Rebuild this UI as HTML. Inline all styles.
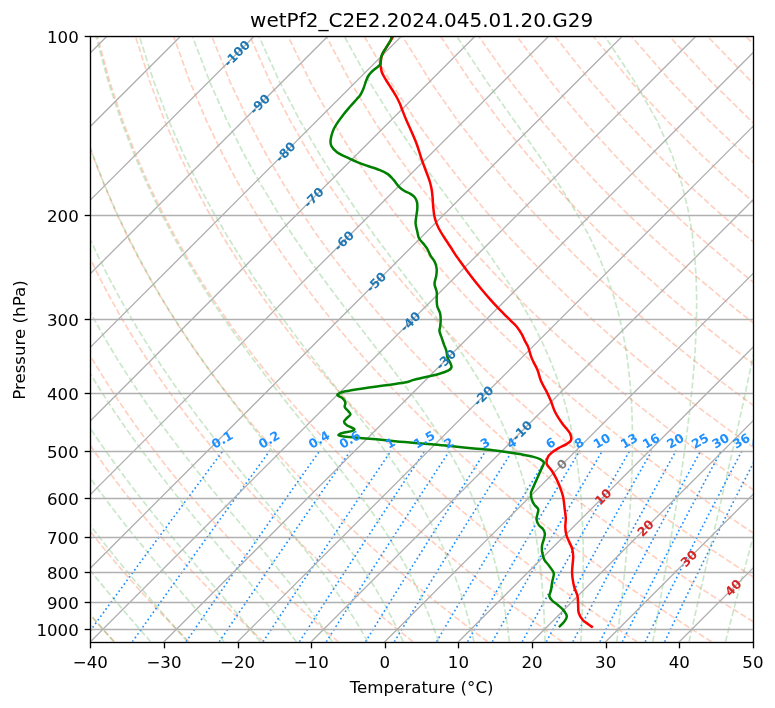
<!DOCTYPE html><html><head><meta charset="utf-8"><title>Skew-T</title><style>
html,body{margin:0;padding:0;background:#fff;}svg{display:block;will-change:transform;}
text{font-family:"DejaVu Sans","Liberation Sans",sans-serif;}
</style></head><body>
<svg width="775" height="708" viewBox="0 0 775 708">
<rect width="775" height="708" fill="#fff"/>
<defs><clipPath id="ax"><rect x="90.364" y="36.19" width="662.56" height="605.59"/></clipPath></defs>
<g clip-path="url(#ax)">
<g fill="none" stroke="#ff4500" stroke-opacity="0.25" stroke-width="1.67" stroke-dasharray="6.17 2.67">
<path d="M114.46 641.78 L110.01 636.98 L105.54 632.08 L101.03 627.1 L96.48 622.01 L91.9 616.83 L87.28 611.54 L82.62 606.13 L77.93 600.61 L73.19 594.97 L68.42 589.2 L63.61 583.3 L58.76 577.27 L53.87 571.08 L48.93 564.75 L43.96 558.25 L38.94 551.59 L33.87 544.75 L28.76 537.73 L23.61 530.5 L18.41 523.07 L13.16 515.42 L7.87 507.53 L2.53 499.4 L-2.85 490.99 L-8.29 482.31 L-13.77 473.32 L-19.29 464.01 L-24.87 454.35 L-30.49 444.31 L-36.15 433.86 L-41.85 422.97 L-47.6 411.6 L-53.38 399.71 L-59.19 387.24 L-65.02 374.14 L-70.87 360.33 L-76.73 345.74 L-82.59 330.28 L-88.42 313.82 L-94.2 296.24 L-99.91 277.38 L-105.49 257.02 L-110.9 234.92 L-116.05 210.73 L-120.84 184.04 L-125.1 154.26 L-128.59 120.58 L-130.92 81.83 L-131.45 36.19"/>
<path d="M189.11 641.78 L184.27 636.98 L179.39 632.08 L174.47 627.1 L169.51 622.01 L164.51 616.83 L159.47 611.54 L154.38 606.13 L149.25 600.61 L144.07 594.97 L138.85 589.2 L133.57 583.3 L128.26 577.27 L122.89 571.08 L117.47 564.75 L112 558.25 L106.48 551.59 L100.91 544.75 L95.28 537.73 L89.59 530.5 L83.85 523.07 L78.05 515.42 L72.19 507.53 L66.28 499.4 L60.3 490.99 L54.26 482.31 L48.16 473.32 L42 464.01 L35.77 454.35 L29.48 444.31 L23.13 433.86 L16.71 422.97 L10.23 411.6 L3.7 399.71 L-2.9 387.24 L-9.55 374.14 L-16.24 360.33 L-22.98 345.74 L-29.75 330.28 L-36.53 313.82 L-43.32 296.24 L-50.08 277.38 L-56.78 257.02 L-63.36 234.92 L-69.78 210.73 L-75.92 184.04 L-81.64 154.26 L-86.72 120.58 L-90.81 81.83 L-93.32 36.19"/>
<path d="M263.76 641.78 L258.53 636.98 L253.24 632.08 L247.92 627.1 L242.54 622.01 L237.12 616.83 L231.65 611.54 L226.14 606.13 L220.57 600.61 L214.94 594.97 L209.27 589.2 L203.54 583.3 L197.75 577.27 L191.91 571.08 L186.01 564.75 L180.05 558.25 L174.02 551.59 L167.94 544.75 L161.79 537.73 L155.57 530.5 L149.29 523.07 L142.94 515.42 L136.52 507.53 L130.02 499.4 L123.45 490.99 L116.81 482.31 L110.09 473.32 L103.29 464.01 L96.41 454.35 L89.45 444.31 L82.4 433.86 L75.27 422.97 L68.06 411.6 L60.77 399.71 L53.39 387.24 L45.93 374.14 L38.39 360.33 L30.77 345.74 L23.09 330.28 L15.35 313.82 L7.56 296.24 L-0.25 277.38 L-8.06 257.02 L-15.83 234.92 L-23.5 210.73 L-30.99 184.04 L-38.17 154.26 L-44.84 120.58 L-50.7 81.83 L-55.19 36.19"/>
<path d="M338.41 641.78 L332.78 636.98 L327.1 632.08 L321.36 627.1 L315.58 622.01 L309.74 616.83 L303.84 611.54 L297.89 606.13 L291.88 600.61 L285.82 594.97 L279.69 589.2 L273.5 583.3 L267.25 577.27 L260.93 571.08 L254.55 564.75 L248.09 558.25 L241.57 551.59 L234.97 544.75 L228.3 537.73 L221.56 530.5 L214.73 523.07 L207.83 515.42 L200.84 507.53 L193.77 499.4 L186.61 490.99 L179.36 482.31 L172.01 473.32 L164.58 464.01 L157.04 454.35 L149.41 444.31 L141.68 433.86 L133.84 422.97 L125.89 411.6 L117.84 399.71 L109.67 387.24 L101.4 374.14 L93.02 360.33 L84.53 345.74 L75.93 330.28 L67.23 313.82 L58.45 296.24 L49.58 277.38 L40.66 257.02 L31.71 234.92 L22.78 210.73 L13.94 184.04 L5.3 154.26 L-2.97 120.58 L-10.59 81.83 L-17.06 36.19"/>
<path d="M413.07 641.78 L407.04 636.98 L400.95 632.08 L394.81 627.1 L388.61 622.01 L382.35 616.83 L376.03 611.54 L369.65 606.13 L363.2 600.61 L356.69 594.97 L350.11 589.2 L343.46 583.3 L336.74 577.27 L329.95 571.08 L323.08 564.75 L316.14 558.25 L309.11 551.59 L302.01 544.75 L294.82 537.73 L287.54 530.5 L280.17 523.07 L272.71 515.42 L265.16 507.53 L257.51 499.4 L249.76 490.99 L241.9 482.31 L233.94 473.32 L225.87 464.01 L217.68 454.35 L209.38 444.31 L200.95 433.86 L192.4 422.97 L183.72 411.6 L174.91 399.71 L165.96 387.24 L156.88 374.14 L147.65 360.33 L138.28 345.74 L128.77 330.28 L119.12 313.82 L109.33 296.24 L99.41 277.38 L89.37 257.02 L79.24 234.92 L69.05 210.73 L58.86 184.04 L48.76 154.26 L38.9 120.58 L29.52 81.83 L21.07 36.19"/>
<path d="M487.72 641.78 L481.29 636.98 L474.8 632.08 L468.26 627.1 L461.64 622.01 L454.97 616.83 L448.22 611.54 L441.41 606.13 L434.52 600.61 L427.57 594.97 L420.53 589.2 L413.43 583.3 L406.24 577.27 L398.97 571.08 L391.62 564.75 L384.18 558.25 L376.66 551.59 L369.04 544.75 L361.33 537.73 L353.52 530.5 L345.61 523.07 L337.6 515.42 L329.48 507.53 L321.25 499.4 L312.91 490.99 L304.45 482.31 L295.87 473.32 L287.16 464.01 L278.32 454.35 L269.34 444.31 L260.22 433.86 L250.96 422.97 L241.55 411.6 L231.98 399.71 L222.25 387.24 L212.35 374.14 L202.28 360.33 L192.04 345.74 L181.61 330.28 L171 313.82 L160.21 296.24 L149.24 277.38 L138.09 257.02 L126.78 234.92 L115.33 210.73 L103.79 184.04 L92.23 154.26 L80.77 120.58 L69.63 81.83 L59.2 36.19"/>
<path d="M562.37 641.78 L555.55 636.98 L548.66 632.08 L541.7 627.1 L534.68 622.01 L527.58 616.83 L520.41 611.54 L513.16 606.13 L505.84 600.61 L498.44 594.97 L490.96 589.2 L483.39 583.3 L475.74 577.27 L467.99 571.08 L460.16 564.75 L452.23 558.25 L444.2 551.59 L436.07 544.75 L427.84 537.73 L419.5 530.5 L411.05 523.07 L402.49 515.42 L393.81 507.53 L385 499.4 L376.07 490.99 L367 482.31 L357.79 473.32 L348.45 464.01 L338.95 454.35 L329.31 444.31 L319.5 433.86 L309.52 422.97 L299.38 411.6 L289.05 399.71 L278.53 387.24 L267.83 374.14 L256.91 360.33 L245.79 345.74 L234.45 330.28 L222.89 313.82 L211.09 296.24 L199.06 277.38 L186.8 257.02 L174.31 234.92 L161.61 210.73 L148.72 184.04 L135.7 154.26 L122.65 120.58 L109.74 81.83 L97.33 36.19"/>
<path d="M637.02 641.78 L629.8 636.98 L622.51 632.08 L615.15 627.1 L607.71 622.01 L600.19 616.83 L592.6 611.54 L584.92 606.13 L577.16 600.61 L569.31 594.97 L561.38 589.2 L553.35 583.3 L545.23 577.27 L537.01 571.08 L528.7 564.75 L520.27 558.25 L511.75 551.59 L503.11 544.75 L494.36 537.73 L485.49 530.5 L476.49 523.07 L467.38 515.42 L458.13 507.53 L448.74 499.4 L439.22 490.99 L429.55 482.31 L419.72 473.32 L409.74 464.01 L399.59 454.35 L389.27 444.31 L378.77 433.86 L368.09 422.97 L357.21 411.6 L346.12 399.71 L334.82 387.24 L323.3 374.14 L311.54 360.33 L299.54 345.74 L287.29 330.28 L274.77 313.82 L261.97 296.24 L248.89 277.38 L235.52 257.02 L221.85 234.92 L207.88 210.73 L193.65 184.04 L179.16 154.26 L164.52 120.58 L149.86 81.83 L135.46 36.19"/>
<path d="M711.67 641.78 L704.06 636.98 L696.37 632.08 L688.59 627.1 L680.74 622.01 L672.81 616.83 L664.79 611.54 L656.68 606.13 L648.48 600.61 L640.19 594.97 L631.8 589.2 L623.32 583.3 L614.73 577.27 L606.03 571.08 L597.23 564.75 L588.32 558.25 L579.29 551.59 L570.14 544.75 L560.87 537.73 L551.47 530.5 L541.94 523.07 L532.26 515.42 L522.45 507.53 L512.49 499.4 L502.37 490.99 L492.09 482.31 L481.65 473.32 L471.03 464.01 L460.23 454.35 L449.24 444.31 L438.05 433.86 L426.65 422.97 L415.03 411.6 L403.19 399.71 L391.11 387.24 L378.77 374.14 L366.18 360.33 L353.3 345.74 L340.13 330.28 L326.65 313.82 L312.86 296.24 L298.72 277.38 L284.23 257.02 L269.38 234.92 L254.16 210.73 L238.57 184.04 L222.63 154.26 L206.39 120.58 L189.97 81.83 L173.59 36.19"/>
<path d="M776 635.58 L770.22 632.08 L762.04 627.1 L753.78 622.01 L745.42 616.83 L736.98 611.54 L728.44 606.13 L719.8 600.61 L711.06 594.97 L702.22 589.2 L693.28 583.3 L684.22 577.27 L675.05 571.08 L665.77 564.75 L656.36 558.25 L646.83 551.59 L637.18 544.75 L627.38 537.73 L617.45 530.5 L607.38 523.07 L597.15 515.42 L586.77 507.53 L576.23 499.4 L565.52 490.99 L554.64 482.31 L543.58 473.32 L532.32 464.01 L520.87 454.35 L509.2 444.31 L497.32 433.86 L485.21 422.97 L472.86 411.6 L460.26 399.71 L447.4 387.24 L434.25 374.14 L420.81 360.33 L407.05 345.74 L392.97 330.28 L378.54 313.82 L363.74 296.24 L348.55 277.38 L332.95 257.02 L316.92 234.92 L300.44 210.73 L283.5 184.04 L266.1 154.26 L248.27 120.58 L230.08 81.83 L211.72 36.19"/>
<path d="M776 591.28 L772.65 589.2 L763.24 583.3 L753.72 577.27 L744.08 571.08 L734.31 564.75 L724.41 558.25 L714.38 551.59 L704.21 544.75 L693.9 537.73 L683.43 530.5 L672.82 523.07 L662.04 515.42 L651.1 507.53 L639.98 499.4 L628.68 490.99 L617.19 482.31 L605.5 473.32 L593.61 464.01 L581.5 454.35 L569.17 444.31 L556.6 433.86 L543.78 422.97 L530.69 411.6 L517.33 399.71 L503.68 387.24 L489.72 374.14 L475.44 360.33 L460.81 345.74 L445.81 330.28 L430.42 313.82 L414.62 296.24 L398.38 277.38 L381.66 257.02 L364.45 234.92 L346.72 210.73 L328.43 184.04 L309.57 154.26 L290.14 120.58 L270.19 81.83 L249.85 36.19"/>
<path d="M776 547.8 L771.24 544.75 L760.41 537.73 L749.42 530.5 L738.26 523.07 L726.93 515.42 L715.42 507.53 L703.72 499.4 L691.83 490.99 L679.74 482.31 L667.43 473.32 L654.9 464.01 L642.14 454.35 L629.13 444.31 L615.87 433.86 L602.34 422.97 L588.52 411.6 L574.4 399.71 L559.97 387.24 L545.2 374.14 L530.07 360.33 L514.56 345.74 L498.65 330.28 L482.31 313.82 L465.5 296.24 L448.21 277.38 L430.38 257.02 L411.99 234.92 L392.99 210.73 L373.35 184.04 L353.03 154.26 L332.01 120.58 L310.3 81.83 L287.98 36.19"/>
<path d="M776 505.05 L767.47 499.4 L754.98 490.99 L742.28 482.31 L729.36 473.32 L716.19 464.01 L702.78 454.35 L689.1 444.31 L675.15 433.86 L660.9 422.97 L646.35 411.6 L631.47 399.71 L616.26 387.24 L600.67 374.14 L584.7 360.33 L568.32 345.74 L551.49 330.28 L534.19 313.82 L516.38 296.24 L498.03 277.38 L479.1 257.02 L459.52 234.92 L439.27 210.73 L418.28 184.04 L396.5 154.26 L373.88 120.58 L350.41 81.83 L326.11 36.19"/>
<path d="M776 462.99 L763.41 454.35 L749.06 444.31 L734.42 433.86 L719.46 422.97 L704.18 411.6 L688.55 399.71 L672.54 387.24 L656.15 374.14 L639.33 360.33 L622.07 345.74 L604.33 330.28 L586.07 313.82 L567.27 296.24 L547.86 277.38 L527.81 257.02 L507.06 234.92 L485.55 210.73 L463.21 184.04 L439.97 154.26 L415.76 120.58 L390.52 81.83 L364.24 36.19"/>
<path d="M776 421.53 L762.01 411.6 L745.62 399.71 L728.83 387.24 L711.62 374.14 L693.96 360.33 L675.82 345.74 L657.17 330.28 L637.96 313.82 L618.15 296.24 L597.69 277.38 L576.53 257.02 L554.6 234.92 L531.82 210.73 L508.13 184.04 L483.43 154.26 L457.63 120.58 L430.63 81.83 L402.38 36.19"/>
<path d="M776 380.61 L767.1 374.14 L748.59 360.33 L729.58 345.74 L710.01 330.28 L689.84 313.82 L669.03 296.24 L647.52 277.38 L625.24 257.02 L602.13 234.92 L578.1 210.73 L553.06 184.04 L526.9 154.26 L499.5 120.58 L470.74 81.83 L440.51 36.19"/>
<path d="M776 340.21 L762.85 330.28 L741.73 313.82 L719.91 296.24 L697.35 277.38 L673.96 257.02 L649.67 234.92 L624.38 210.73 L597.99 184.04 L570.37 154.26 L541.37 120.58 L510.85 81.83 L478.64 36.19"/>
<path d="M776 300.26 L770.79 296.24 L747.17 277.38 L722.67 257.02 L697.2 234.92 L670.66 210.73 L642.91 184.04 L613.83 154.26 L583.25 120.58 L550.96 81.83 L516.77 36.19"/>
<path d="M776 260.69 L771.39 257.02 L744.74 234.92 L716.93 210.73 L687.84 184.04 L657.3 154.26 L625.12 120.58 L591.07 81.83 L554.9 36.19"/>
<path d="M776 221.38 L763.21 210.73 L732.77 184.04 L700.77 154.26 L666.99 120.58 L631.18 81.83 L593.03 36.19"/>
<path d="M776 182.53 L744.23 154.26 L708.87 120.58 L671.29 81.83 L631.16 36.19"/>
<path d="M776 143.6 L750.74 120.58 L711.41 81.83 L669.29 36.19"/>
<path d="M776 104.92 L751.52 81.83 L707.42 36.19"/>
<path d="M776 66.35 L745.55 36.19"/>
</g>
<g fill="none" stroke="#2ca02c" stroke-opacity="0.25" stroke-width="1.67" stroke-dasharray="6.17 2.67">
<path d="M113.8 641.78 L109.63 636.98 L105.4 632.08 L101.12 627.1 L96.78 622.01 L92.39 616.83 L87.95 611.54 L83.45 606.13 L78.9 600.61 L74.29 594.97 L69.63 589.2 L64.92 583.3 L60.15 577.27 L55.34 571.08 L50.47 564.75 L45.54 558.25 L40.57 551.59 L35.54 544.75 L30.46 537.73 L25.33 530.5 L20.15 523.07 L14.92 515.42 L9.63 507.53 L4.3 499.4 L-1.09 490.99 L-6.53 482.31 L-12.02 473.32 L-17.55 464.01 L-23.14 454.35 L-28.77 444.31 L-34.45 433.86 L-40.17 422.97 L-45.93 411.6 L-51.73 399.71 L-57.57 387.24 L-63.42 374.14 L-69.3 360.33 L-75.19 345.74 L-81.07 330.28 L-86.92 313.82 L-92.73 296.24 L-98.47 277.38 L-104.09 257.02 L-109.53 234.92 L-114.72 210.73 L-119.55 184.04 L-123.85 154.26 L-127.38 120.58 L-129.76 81.83 L-130.35 36.19"/>
<path d="M150.74 641.78 L146.53 636.98 L142.25 632.08 L137.9 627.1 L133.49 622.01 L129 616.83 L124.45 611.54 L119.84 606.13 L115.16 600.61 L110.41 594.97 L105.6 589.2 L100.73 583.3 L95.79 577.27 L90.79 571.08 L85.72 564.75 L80.59 558.25 L75.4 551.59 L70.15 544.75 L64.83 537.73 L59.46 530.5 L54.02 523.07 L48.52 515.42 L42.96 507.53 L37.34 499.4 L31.66 490.99 L25.92 482.31 L20.12 473.32 L14.26 464.01 L8.34 454.35 L2.36 444.31 L-3.67 433.86 L-9.76 422.97 L-15.9 411.6 L-22.09 399.71 L-28.33 387.24 L-34.61 374.14 L-40.92 360.33 L-47.26 345.74 L-53.62 330.28 L-59.97 313.82 L-66.3 296.24 L-72.59 277.38 L-78.78 257.02 L-84.84 234.92 L-90.68 210.73 L-96.21 184.04 L-101.27 154.26 L-105.63 120.58 L-108.93 81.83 L-110.54 36.19"/>
<path d="M187.51 641.78 L183.33 636.98 L179.06 632.08 L174.71 627.1 L170.27 622.01 L165.76 616.83 L161.16 611.54 L156.48 606.13 L151.72 600.61 L146.88 594.97 L141.96 589.2 L136.96 583.3 L131.89 577.27 L126.73 571.08 L121.5 564.75 L116.19 558.25 L110.81 551.59 L105.35 544.75 L99.82 537.73 L94.21 530.5 L88.53 523.07 L82.77 515.42 L76.95 507.53 L71.05 499.4 L65.08 490.99 L59.04 482.31 L52.92 473.32 L46.74 464.01 L40.48 454.35 L34.16 444.31 L27.77 433.86 L21.31 422.97 L14.78 411.6 L8.19 399.71 L1.54 387.24 L-5.17 374.14 L-11.93 360.33 L-18.74 345.74 L-25.58 330.28 L-32.44 313.82 L-39.3 296.24 L-46.14 277.38 L-52.93 257.02 L-59.61 234.92 L-66.12 210.73 L-72.37 184.04 L-78.2 154.26 L-83.41 120.58 L-87.64 81.83 L-90.31 36.19"/>
<path d="M224.07 641.78 L219.99 636.98 L215.82 632.08 L211.55 627.1 L207.17 622.01 L202.7 616.83 L198.13 611.54 L193.46 606.13 L188.69 600.61 L183.82 594.97 L178.85 589.2 L173.79 583.3 L168.63 577.27 L163.37 571.08 L158.02 564.75 L152.57 558.25 L147.03 551.59 L141.4 544.75 L135.68 537.73 L129.86 530.5 L123.96 523.07 L117.97 515.42 L111.89 507.53 L105.72 499.4 L99.47 490.99 L93.13 482.31 L86.71 473.32 L80.2 464.01 L73.61 454.35 L66.93 444.31 L60.17 433.86 L53.33 422.97 L46.41 411.6 L39.41 399.71 L32.34 387.24 L25.19 374.14 L17.97 360.33 L10.68 345.74 L3.34 330.28 L-4.04 313.82 L-11.45 296.24 L-18.87 277.38 L-26.26 257.02 L-33.59 234.92 L-40.79 210.73 L-47.78 184.04 L-54.41 154.26 L-60.49 120.58 L-65.69 81.83 L-69.44 36.19"/>
<path d="M260.38 641.78 L256.51 636.98 L252.53 632.08 L248.43 627.1 L244.21 622.01 L239.88 616.83 L235.43 611.54 L230.86 606.13 L226.17 600.61 L221.36 594.97 L216.43 589.2 L211.39 583.3 L206.22 577.27 L200.93 571.08 L195.53 564.75 L190.01 558.25 L184.37 551.59 L178.62 544.75 L172.75 537.73 L166.78 530.5 L160.69 523.07 L154.49 515.42 L148.18 507.53 L141.77 499.4 L135.25 490.99 L128.63 482.31 L121.9 473.32 L115.08 464.01 L108.15 454.35 L101.12 444.31 L93.99 433.86 L86.76 422.97 L79.43 411.6 L72.01 399.71 L64.5 387.24 L56.89 374.14 L49.19 360.33 L41.41 345.74 L33.55 330.28 L25.62 313.82 L17.64 296.24 L9.62 277.38 L1.59 257.02 L-6.41 234.92 L-14.34 210.73 L-22.09 184.04 L-29.56 154.26 L-36.55 120.58 L-42.75 81.83 L-47.64 36.19"/>
<path d="M296.43 641.78 L292.86 636.98 L289.17 632.08 L285.35 627.1 L281.41 622.01 L277.33 616.83 L273.11 611.54 L268.76 606.13 L264.27 600.61 L259.64 594.97 L254.87 589.2 L249.95 583.3 L244.89 577.27 L239.68 571.08 L234.32 564.75 L228.82 558.25 L223.18 551.59 L217.39 544.75 L211.46 537.73 L205.39 530.5 L199.18 523.07 L192.83 515.42 L186.34 507.53 L179.72 499.4 L172.97 490.99 L166.09 482.31 L159.08 473.32 L151.95 464.01 L144.69 454.35 L137.31 444.31 L129.8 433.86 L122.18 422.97 L114.44 411.6 L106.58 399.71 L98.61 387.24 L90.52 374.14 L82.32 360.33 L74.01 345.74 L65.6 330.28 L57.1 313.82 L48.51 296.24 L39.85 277.38 L31.14 257.02 L22.43 234.92 L13.74 210.73 L5.17 184.04 L-3.19 154.26 L-11.15 120.58 L-18.42 81.83 L-24.5 36.19"/>
<path d="M332.21 641.78 L329.05 636.98 L325.75 632.08 L322.33 627.1 L318.76 622.01 L315.06 616.83 L311.21 611.54 L307.21 606.13 L303.05 600.61 L298.74 594.97 L294.26 589.2 L289.62 583.3 L284.8 577.27 L279.81 571.08 L274.65 564.75 L269.31 558.25 L263.8 551.59 L258.1 544.75 L252.23 537.73 L246.18 530.5 L239.95 523.07 L233.55 515.42 L226.97 507.53 L220.22 499.4 L213.3 490.99 L206.22 482.31 L198.97 473.32 L191.57 464.01 L184 454.35 L176.28 444.31 L168.41 433.86 L160.39 422.97 L152.22 411.6 L143.91 399.71 L135.46 387.24 L126.86 374.14 L118.13 360.33 L109.26 345.74 L100.26 330.28 L91.14 313.82 L81.89 296.24 L72.55 277.38 L63.11 257.02 L53.62 234.92 L44.11 210.73 L34.65 184.04 L25.34 154.26 L16.33 120.58 L7.9 81.83 L0.52 36.19"/>
<path d="M367.78 641.78 L365.09 636.98 L362.28 632.08 L359.34 627.1 L356.26 622.01 L353.05 616.83 L349.69 611.54 L346.17 606.13 L342.49 600.61 L338.64 594.97 L334.62 589.2 L330.42 583.3 L326.03 577.27 L321.44 571.08 L316.66 564.75 L311.67 558.25 L306.47 551.59 L301.06 544.75 L295.43 537.73 L289.58 530.5 L283.51 523.07 L277.21 515.42 L270.69 507.53 L263.95 499.4 L257 490.99 L249.82 482.31 L242.43 473.32 L234.83 464.01 L227.03 454.35 L219.02 444.31 L210.82 433.86 L202.42 422.97 L193.83 411.6 L185.06 399.71 L176.11 387.24 L166.98 374.14 L157.68 360.33 L148.2 345.74 L138.56 330.28 L128.76 313.82 L118.8 296.24 L108.69 277.38 L98.46 257.02 L88.11 234.92 L77.69 210.73 L67.25 184.04 L56.88 154.26 L46.72 120.58 L37.01 81.83 L28.19 36.19"/>
<path d="M403.2 641.78 L401.04 636.98 L398.77 632.08 L396.38 627.1 L393.87 622.01 L391.24 616.83 L388.46 611.54 L385.54 606.13 L382.46 600.61 L379.23 594.97 L375.82 589.2 L372.22 583.3 L368.44 577.27 L364.46 571.08 L360.26 564.75 L355.85 558.25 L351.2 551.59 L346.31 544.75 L341.17 537.73 L335.78 530.5 L330.12 523.07 L324.19 515.42 L317.98 507.53 L311.5 499.4 L304.73 490.99 L297.67 482.31 L290.34 473.32 L282.72 464.01 L274.82 454.35 L266.65 444.31 L258.22 433.86 L249.52 422.97 L240.57 411.6 L231.37 399.71 L221.93 387.24 L212.26 374.14 L202.36 360.33 L192.23 345.74 L181.89 330.28 L171.34 313.82 L160.58 296.24 L149.63 277.38 L138.48 257.02 L127.17 234.92 L115.72 210.73 L104.17 184.04 L92.6 154.26 L81.13 120.58 L69.98 81.83 L59.53 36.19"/>
<path d="M438.56 641.78 L436.95 636.98 L435.24 632.08 L433.44 627.1 L431.54 622.01 L429.53 616.83 L427.4 611.54 L425.15 606.13 L422.77 600.61 L420.24 594.97 L417.55 589.2 L414.71 583.3 L411.68 577.27 L408.47 571.08 L405.06 564.75 L401.44 558.25 L397.58 551.59 L393.49 544.75 L389.13 537.73 L384.5 530.5 L379.59 523.07 L374.37 515.42 L368.83 507.53 L362.96 499.4 L356.75 490.99 L350.18 482.31 L343.25 473.32 L335.95 464.01 L328.28 454.35 L320.24 444.31 L311.82 433.86 L303.04 422.97 L293.9 411.6 L284.41 399.71 L274.58 387.24 L264.42 374.14 L253.94 360.33 L243.16 345.74 L232.08 330.28 L220.71 313.82 L209.06 296.24 L197.14 277.38 L184.96 257.02 L172.54 234.92 L159.9 210.73 L147.06 184.04 L134.1 154.26 L121.11 120.58 L108.27 81.83 L95.93 36.19"/>
<path d="M473.94 641.78 L472.86 636.98 L471.72 632.08 L470.5 627.1 L469.21 622.01 L467.83 616.83 L466.37 611.54 L464.81 606.13 L463.14 600.61 L461.36 594.97 L459.46 589.2 L457.42 583.3 L455.25 577.27 L452.91 571.08 L450.41 564.75 L447.73 558.25 L444.85 551.59 L441.75 544.75 L438.42 537.73 L434.84 530.5 L430.99 523.07 L426.84 515.42 L422.37 507.53 L417.56 499.4 L412.38 490.99 L406.81 482.31 L400.82 473.32 L394.39 464.01 L387.51 454.35 L380.14 444.31 L372.28 433.86 L363.91 422.97 L355.04 411.6 L345.65 399.71 L335.76 387.24 L325.37 374.14 L314.51 360.33 L303.18 345.74 L291.42 330.28 L279.22 313.82 L266.63 296.24 L253.64 277.38 L240.29 257.02 L226.58 234.92 L212.53 210.73 L198.18 184.04 L183.56 154.26 L168.76 120.58 L153.92 81.83 L139.32 36.19"/>
<path d="M509.4 641.78 L508.83 636.98 L508.21 632.08 L507.54 627.1 L506.83 622.01 L506.05 616.83 L505.22 611.54 L504.32 606.13 L503.34 600.61 L502.29 594.97 L501.15 589.2 L499.92 583.3 L498.59 577.27 L497.15 571.08 L495.58 564.75 L493.88 558.25 L492.03 551.59 L490.02 544.75 L487.83 537.73 L485.44 530.5 L482.84 523.07 L479.99 515.42 L476.88 507.53 L473.47 499.4 L469.74 490.99 L465.66 482.31 L461.18 473.32 L456.26 464.01 L450.87 454.35 L444.96 444.31 L438.48 433.86 L431.4 422.97 L423.68 411.6 L415.27 399.71 L406.15 387.24 L396.3 374.14 L385.72 360.33 L374.4 345.74 L362.36 330.28 L349.63 313.82 L336.23 296.24 L322.22 277.38 L307.62 257.02 L292.46 234.92 L276.78 210.73 L260.62 184.04 L244 154.26 L227 120.58 L209.71 81.83 L192.37 36.19"/>
<path d="M545.01 641.78 L544.88 636.98 L544.74 632.08 L544.56 627.1 L544.36 622.01 L544.13 616.83 L543.86 611.54 L543.55 606.13 L543.21 600.61 L542.81 594.97 L542.37 589.2 L541.87 583.3 L541.31 577.27 L540.68 571.08 L539.98 564.75 L539.19 558.25 L538.32 551.59 L537.34 544.75 L536.24 537.73 L535.02 530.5 L533.66 523.07 L532.13 515.42 L530.43 507.53 L528.52 499.4 L526.38 490.99 L523.99 482.31 L521.3 473.32 L518.28 464.01 L514.89 454.35 L511.06 444.31 L506.75 433.86 L501.89 422.97 L496.4 411.6 L490.2 399.71 L483.22 387.24 L475.36 374.14 L466.55 360.33 L456.69 345.74 L445.74 330.28 L433.66 313.82 L420.43 296.24 L406.08 277.38 L390.66 257.02 L374.23 234.92 L356.87 210.73 L338.66 184.04 L319.66 154.26 L299.96 120.58 L279.63 81.83 L258.84 36.19"/>
<path d="M580.78 641.78 L581.04 636.98 L581.3 632.08 L581.55 627.1 L581.79 622.01 L582.02 616.83 L582.24 611.54 L582.45 606.13 L582.63 600.61 L582.8 594.97 L582.95 589.2 L583.08 583.3 L583.18 577.27 L583.25 571.08 L583.28 564.75 L583.28 558.25 L583.24 551.59 L583.15 544.75 L583 537.73 L582.79 530.5 L582.5 523.07 L582.14 515.42 L581.68 507.53 L581.11 499.4 L580.42 490.99 L579.58 482.31 L578.58 473.32 L577.39 464.01 L575.98 454.35 L574.31 444.31 L572.34 433.86 L570 422.97 L567.25 411.6 L564 399.71 L560.16 387.24 L555.62 374.14 L550.25 360.33 L543.89 345.74 L536.38 330.28 L527.53 313.82 L517.12 296.24 L504.99 277.38 L490.99 257.02 L475.06 234.92 L457.2 210.73 L437.52 184.04 L416.21 154.26 L393.44 120.58 L369.39 81.83 L344.25 36.19"/>
<path d="M616.72 641.78 L617.31 636.98 L617.91 632.08 L618.51 627.1 L619.12 622.01 L619.73 616.83 L620.35 611.54 L620.97 606.13 L621.6 600.61 L622.23 594.97 L622.87 589.2 L623.5 583.3 L624.14 577.27 L624.77 571.08 L625.41 564.75 L626.04 558.25 L626.66 551.59 L627.28 544.75 L627.89 537.73 L628.48 530.5 L629.06 523.07 L629.62 515.42 L630.15 507.53 L630.65 499.4 L631.12 490.99 L631.53 482.31 L631.89 473.32 L632.17 464.01 L632.38 454.35 L632.47 444.31 L632.45 433.86 L632.27 422.97 L631.9 411.6 L631.3 399.71 L630.42 387.24 L629.19 374.14 L627.52 360.33 L625.3 345.74 L622.39 330.28 L618.59 313.82 L613.67 296.24 L607.31 277.38 L599.12 257.02 L588.61 234.92 L575.26 210.73 L558.57 184.04 L538.21 154.26 L514.18 120.58 L486.81 81.83 L456.64 36.19"/>
<path d="M652.83 641.78 L653.69 636.98 L654.56 632.08 L655.44 627.1 L656.34 622.01 L657.27 616.83 L658.2 611.54 L659.16 606.13 L660.14 600.61 L661.13 594.97 L662.14 589.2 L663.18 583.3 L664.23 577.27 L665.31 571.08 L666.41 564.75 L667.53 558.25 L668.67 551.59 L669.83 544.75 L671.02 537.73 L672.23 530.5 L673.46 523.07 L674.71 515.42 L675.99 507.53 L677.29 499.4 L678.6 490.99 L679.94 482.31 L681.29 473.32 L682.66 464.01 L684.04 454.35 L685.42 444.31 L686.81 433.86 L688.19 422.97 L689.55 411.6 L690.87 399.71 L692.15 387.24 L693.35 374.14 L694.45 360.33 L695.4 345.74 L696.13 330.28 L696.59 313.82 L696.63 296.24 L696.12 277.38 L694.81 257.02 L692.37 234.92 L688.3 210.73 L681.82 184.04 L671.84 154.26 L656.79 120.58 L634.87 81.83 L604.81 36.19"/>
<path d="M689.1 641.78 L690.15 636.98 L691.24 632.08 L692.35 627.1 L693.48 622.01 L694.64 616.83 L695.82 611.54 L697.04 606.13 L698.28 600.61 L699.55 594.97 L700.86 589.2 L702.2 583.3 L703.57 577.27 L704.98 571.08 L706.43 564.75 L707.91 558.25 L709.44 551.59 L711.01 544.75 L712.62 537.73 L714.28 530.5 L715.99 523.07 L717.75 515.42 L719.56 507.53 L721.43 499.4 L723.36 490.99 L725.35 482.31 L727.41 473.32 L729.53 464.01 L731.73 454.35 L734 444.31 L736.35 433.86 L738.78 422.97 L741.29 411.6 L743.9 399.71 L746.59 387.24 L749.38 374.14 L752.26 360.33 L755.24 345.74 L758.3 330.28 L761.45 313.82 L764.65 296.24 L767.89 277.38 L771.1 257.02 L774.21 234.92 L777.08 210.73 L779.46 184.04 L780.93 154.26 L780.69 120.58 L777.25 81.83 L767.58 36.19"/>
<path d="M725.49 641.78 L726.71 636.98 L727.95 632.08 L729.23 627.1 L730.53 622.01 L731.87 616.83 L733.24 611.54 L734.65 606.13 L736.09 600.61 L737.58 594.97 L739.1 589.2 L740.66 583.3 L742.27 577.27 L743.92 571.08 L745.62 564.75 L747.38 558.25 L749.18 551.59 L751.04 544.75 L752.96 537.73 L754.95 530.5 L757 523.07 L759.11 515.42 L761.31 507.53 L763.58 499.4 L765.93 490.99 L768.38 482.31 L770.91 473.32 L773.55 464.01 L776.3 454.35 L779.17 444.31 L782.16 433.86 L785.28 422.97 L788.56 411.6 L791.99 399.71 L795.59 387.24 L799.38 374.14 L803.37 360.33 L807.59 345.74 L812.06 330.28 L816.8 313.82 L821.84 296.24 L827.21 277.38 L832.96 257.02 L839.11 234.92 L845.71 210.73 L852.8 184.04 L860.39 154.26 L868.47 120.58 L876.88 81.83 L885.13 36.19"/>
<path d="M761.99 641.78 L763.33 636.98 L764.69 632.08 L766.09 627.1 L767.52 622.01 L768.99 616.83 L770.49 611.54 L772.04 606.13 L773.63 600.61 L775.26 594.97 L776.94 589.2 L778.66 583.3 L780.44 577.27 L782.26 571.08 L784.14 564.75 L786.09 558.25 L788.09 551.59 L790.15 544.75 L792.29 537.73 L794.5 530.5 L796.78 523.07 L799.15 515.42 L801.6 507.53 L804.15 499.4 L806.79 490.99 L809.54 482.31 L812.4 473.32 L815.39 464.01 L818.5 454.35 L821.76 444.31 L825.17 433.86 L828.75 422.97 L832.51 411.6 L836.47 399.71 L840.64 387.24 L845.06 374.14 L849.74 360.33 L854.72 345.74 L860.04 330.28 L865.72 313.82 L871.83 296.24 L878.43 277.38 L885.58 257.02 L893.39 234.92 L901.96 210.73 L911.45 184.04 L922.04 154.26 L934.01 120.58 L947.68 81.83 L963.55 36.19"/>
</g>
<g fill="none" stroke="#1e90ff" stroke-width="1.67" stroke-dasharray="1.67 2.75">
<path d="M82.18 641.78 L84.2 639.01 L86.23 636.21 L88.3 633.38 L90.38 630.52 L92.49 627.63 L94.62 624.7 L96.78 621.74 L98.97 618.75 L101.18 615.72 L103.42 612.66 L105.68 609.56 L107.98 606.42 L110.3 603.24 L112.66 600.02 L115.04 596.76 L117.46 593.46 L119.91 590.12 L122.39 586.73 L124.91 583.3 L127.46 579.82 L130.05 576.3 L132.68 572.72 L135.34 569.1 L138.04 565.42 L140.79 561.69 L143.57 557.91 L146.4 554.07 L149.27 550.17 L152.19 546.21 L155.16 542.18 L158.17 538.1 L161.23 533.95 L164.35 529.73 L167.52 525.44 L170.74 521.08 L174.02 516.64 L177.37 512.13 L180.77 507.53 L184.24 502.85 L187.77 498.09 L191.37 493.23 L195.04 488.28 L198.79 483.24 L202.62 478.09 L206.52 472.84 L210.51 467.48 L214.59 462 L218.76 456.41 L223.02 450.69"/>
<path d="M132.39 641.78 L134.35 639.01 L136.34 636.21 L138.34 633.38 L140.38 630.52 L142.43 627.63 L144.51 624.7 L146.61 621.74 L148.74 618.75 L150.9 615.72 L153.08 612.66 L155.29 609.56 L157.53 606.42 L159.8 603.24 L162.09 600.02 L164.42 596.76 L166.78 593.46 L169.17 590.12 L171.59 586.73 L174.04 583.3 L176.53 579.82 L179.06 576.3 L181.62 572.72 L184.22 569.1 L186.85 565.42 L189.53 561.69 L192.25 557.91 L195.01 554.07 L197.81 550.17 L200.66 546.21 L203.55 542.18 L206.49 538.1 L209.49 533.95 L212.53 529.73 L215.62 525.44 L218.77 521.08 L221.97 516.64 L225.24 512.13 L228.56 507.53 L231.95 502.85 L235.4 498.09 L238.92 493.23 L242.5 488.28 L246.17 483.24 L249.9 478.09 L253.72 472.84 L257.62 467.48 L261.6 462 L265.67 456.41 L269.84 450.69"/>
<path d="M186.08 641.78 L187.99 639.01 L189.91 636.21 L191.86 633.38 L193.84 630.52 L195.83 627.63 L197.85 624.7 L199.9 621.74 L201.97 618.75 L204.06 615.72 L206.18 612.66 L208.33 609.56 L210.5 606.42 L212.7 603.24 L214.93 600.02 L217.2 596.76 L219.49 593.46 L221.81 590.12 L224.16 586.73 L226.55 583.3 L228.97 579.82 L231.42 576.3 L233.91 572.72 L236.44 569.1 L239.01 565.42 L241.61 561.69 L244.25 557.91 L246.94 554.07 L249.66 550.17 L252.43 546.21 L255.25 542.18 L258.11 538.1 L261.02 533.95 L263.98 529.73 L266.99 525.44 L270.06 521.08 L273.18 516.64 L276.35 512.13 L279.59 507.53 L282.88 502.85 L286.24 498.09 L289.67 493.23 L293.17 488.28 L296.73 483.24 L300.37 478.09 L304.09 472.84 L307.89 467.48 L311.77 462 L315.74 456.41 L319.8 450.69"/>
<path d="M219.25 641.78 L221.12 639.01 L223.01 636.21 L224.92 633.38 L226.86 630.52 L228.82 627.63 L230.8 624.7 L232.8 621.74 L234.83 618.75 L236.89 615.72 L238.97 612.66 L241.08 609.56 L243.21 606.42 L245.37 603.24 L247.56 600.02 L249.78 596.76 L252.03 593.46 L254.31 590.12 L256.62 586.73 L258.96 583.3 L261.34 579.82 L263.75 576.3 L266.2 572.72 L268.68 569.1 L271.2 565.42 L273.75 561.69 L276.35 557.91 L278.99 554.07 L281.66 550.17 L284.38 546.21 L287.15 542.18 L289.96 538.1 L292.82 533.95 L295.73 529.73 L298.69 525.44 L301.7 521.08 L304.76 516.64 L307.89 512.13 L311.07 507.53 L314.31 502.85 L317.61 498.09 L320.98 493.23 L324.41 488.28 L327.92 483.24 L331.5 478.09 L335.15 472.84 L338.89 467.48 L342.7 462 L346.61 456.41 L350.6 450.69"/>
<path d="M263.03 641.78 L264.85 639.01 L266.7 636.21 L268.56 633.38 L270.44 630.52 L272.35 627.63 L274.28 624.7 L276.24 621.74 L278.21 618.75 L280.22 615.72 L282.24 612.66 L284.3 609.56 L286.38 606.42 L288.48 603.24 L290.62 600.02 L292.78 596.76 L294.97 593.46 L297.2 590.12 L299.45 586.73 L301.73 583.3 L304.05 579.82 L306.4 576.3 L308.78 572.72 L311.2 569.1 L313.66 565.42 L316.15 561.69 L318.69 557.91 L321.26 554.07 L323.87 550.17 L326.53 546.21 L329.22 542.18 L331.97 538.1 L334.76 533.95 L337.6 529.73 L340.48 525.44 L343.42 521.08 L346.42 516.64 L349.46 512.13 L352.57 507.53 L355.73 502.85 L358.96 498.09 L362.25 493.23 L365.6 488.28 L369.03 483.24 L372.52 478.09 L376.09 472.84 L379.74 467.48 L383.47 462 L387.29 456.41 L391.19 450.69"/>
<path d="M299.47 641.78 L301.25 639.01 L303.05 636.21 L304.87 633.38 L306.72 630.52 L308.58 627.63 L310.47 624.7 L312.38 621.74 L314.31 618.75 L316.27 615.72 L318.25 612.66 L320.26 609.56 L322.29 606.42 L324.35 603.24 L326.44 600.02 L328.55 596.76 L330.7 593.46 L332.87 590.12 L335.07 586.73 L337.31 583.3 L339.57 579.82 L341.87 576.3 L344.2 572.72 L346.57 569.1 L348.98 565.42 L351.42 561.69 L353.89 557.91 L356.41 554.07 L358.97 550.17 L361.57 546.21 L364.21 542.18 L366.89 538.1 L369.62 533.95 L372.4 529.73 L375.23 525.44 L378.11 521.08 L381.04 516.64 L384.02 512.13 L387.06 507.53 L390.16 502.85 L393.32 498.09 L396.54 493.23 L399.83 488.28 L403.19 483.24 L406.61 478.09 L410.11 472.84 L413.69 467.48 L417.34 462 L421.08 456.41 L424.91 450.69"/>
<path d="M326.29 641.78 L328.03 639.01 L329.8 636.21 L331.59 633.38 L333.4 630.52 L335.23 627.63 L337.09 624.7 L338.96 621.74 L340.86 618.75 L342.79 615.72 L344.74 612.66 L346.71 609.56 L348.71 606.42 L350.73 603.24 L352.78 600.02 L354.86 596.76 L356.97 593.46 L359.11 590.12 L361.27 586.73 L363.47 583.3 L365.7 579.82 L367.96 576.3 L370.25 572.72 L372.58 569.1 L374.94 565.42 L377.34 561.69 L379.78 557.91 L382.26 554.07 L384.77 550.17 L387.33 546.21 L389.93 542.18 L392.57 538.1 L395.26 533.95 L397.99 529.73 L400.77 525.44 L403.61 521.08 L406.49 516.64 L409.43 512.13 L412.42 507.53 L415.47 502.85 L418.58 498.09 L421.75 493.23 L424.99 488.28 L428.29 483.24 L431.67 478.09 L435.11 472.84 L438.63 467.48 L442.23 462 L445.92 456.41 L449.68 450.69"/>
<path d="M365.49 641.78 L367.19 639.01 L368.91 636.21 L370.66 633.38 L372.42 630.52 L374.2 627.63 L376.01 624.7 L377.83 621.74 L379.68 618.75 L381.56 615.72 L383.46 612.66 L385.38 609.56 L387.32 606.42 L389.3 603.24 L391.29 600.02 L393.32 596.76 L395.37 593.46 L397.46 590.12 L399.57 586.73 L401.71 583.3 L403.88 579.82 L406.08 576.3 L408.32 572.72 L410.59 569.1 L412.89 565.42 L415.23 561.69 L417.61 557.91 L420.03 554.07 L422.48 550.17 L424.97 546.21 L427.51 542.18 L430.09 538.1 L432.71 533.95 L435.38 529.73 L438.09 525.44 L440.85 521.08 L443.67 516.64 L446.54 512.13 L449.46 507.53 L452.44 502.85 L455.47 498.09 L458.57 493.23 L461.73 488.28 L464.96 483.24 L468.25 478.09 L471.62 472.84 L475.06 467.48 L478.58 462 L482.17 456.41 L485.86 450.69"/>
<path d="M394.35 641.78 L396.02 639.01 L397.71 636.21 L399.41 633.38 L401.14 630.52 L402.89 627.63 L404.65 624.7 L406.45 621.74 L408.26 618.75 L410.09 615.72 L411.95 612.66 L413.84 609.56 L415.74 606.42 L417.68 603.24 L419.64 600.02 L421.62 596.76 L423.63 593.46 L425.68 590.12 L427.75 586.73 L429.84 583.3 L431.97 579.82 L434.14 576.3 L436.33 572.72 L438.55 569.1 L440.81 565.42 L443.11 561.69 L445.44 557.91 L447.81 554.07 L450.22 550.17 L452.66 546.21 L455.15 542.18 L457.68 538.1 L460.25 533.95 L462.87 529.73 L465.54 525.44 L468.25 521.08 L471.01 516.64 L473.83 512.13 L476.69 507.53 L479.62 502.85 L482.6 498.09 L485.64 493.23 L488.74 488.28 L491.91 483.24 L495.15 478.09 L498.46 472.84 L501.83 467.48 L505.29 462 L508.83 456.41 L512.45 450.69"/>
<path d="M436.56 641.78 L438.18 639.01 L439.81 636.21 L441.47 633.38 L443.14 630.52 L444.83 627.63 L446.55 624.7 L448.28 621.74 L450.04 618.75 L451.82 615.72 L453.62 612.66 L455.45 609.56 L457.3 606.42 L459.17 603.24 L461.07 600.02 L463 596.76 L464.95 593.46 L466.93 590.12 L468.94 586.73 L470.97 583.3 L473.04 579.82 L475.14 576.3 L477.27 572.72 L479.43 569.1 L481.62 565.42 L483.85 561.69 L486.11 557.91 L488.41 554.07 L490.75 550.17 L493.13 546.21 L495.54 542.18 L498 538.1 L500.5 533.95 L503.04 529.73 L505.63 525.44 L508.27 521.08 L510.96 516.64 L513.69 512.13 L516.48 507.53 L519.32 502.85 L522.22 498.09 L525.18 493.23 L528.2 488.28 L531.28 483.24 L534.43 478.09 L537.65 472.84 L540.94 467.48 L544.3 462 L547.75 456.41 L551.27 450.69"/>
<path d="M467.63 641.78 L469.21 639.01 L470.8 636.21 L472.41 633.38 L474.05 630.52 L475.7 627.63 L477.37 624.7 L479.07 621.74 L480.78 618.75 L482.52 615.72 L484.28 612.66 L486.06 609.56 L487.87 606.42 L489.7 603.24 L491.55 600.02 L493.43 596.76 L495.34 593.46 L497.28 590.12 L499.24 586.73 L501.23 583.3 L503.25 579.82 L505.3 576.3 L507.38 572.72 L509.49 569.1 L511.63 565.42 L513.81 561.69 L516.02 557.91 L518.27 554.07 L520.56 550.17 L522.88 546.21 L525.25 542.18 L527.65 538.1 L530.09 533.95 L532.58 529.73 L535.12 525.44 L537.7 521.08 L540.32 516.64 L543 512.13 L545.73 507.53 L548.51 502.85 L551.35 498.09 L554.25 493.23 L557.2 488.28 L560.22 483.24 L563.3 478.09 L566.46 472.84 L569.68 467.48 L572.97 462 L576.34 456.41 L579.8 450.69"/>
<path d="M492.38 641.78 L493.92 639.01 L495.48 636.21 L497.06 633.38 L498.67 630.52 L500.28 627.63 L501.92 624.7 L503.59 621.74 L505.27 618.75 L506.97 615.72 L508.7 612.66 L510.44 609.56 L512.21 606.42 L514.01 603.24 L515.83 600.02 L517.67 596.76 L519.55 593.46 L521.44 590.12 L523.37 586.73 L525.32 583.3 L527.3 579.82 L529.31 576.3 L531.35 572.72 L533.42 569.1 L535.53 565.42 L537.67 561.69 L539.84 557.91 L542.05 554.07 L544.29 550.17 L546.57 546.21 L548.89 542.18 L551.25 538.1 L553.65 533.95 L556.1 529.73 L558.58 525.44 L561.12 521.08 L563.7 516.64 L566.33 512.13 L569.01 507.53 L571.74 502.85 L574.53 498.09 L577.38 493.23 L580.28 488.28 L583.25 483.24 L586.28 478.09 L589.38 472.84 L592.54 467.48 L595.78 462 L599.1 456.41 L602.49 450.69"/>
<path d="M522.21 641.78 L523.71 639.01 L525.23 636.21 L526.77 633.38 L528.34 630.52 L529.91 627.63 L531.51 624.7 L533.13 621.74 L534.77 618.75 L536.44 615.72 L538.12 612.66 L539.82 609.56 L541.55 606.42 L543.3 603.24 L545.08 600.02 L546.88 596.76 L548.71 593.46 L550.56 590.12 L552.44 586.73 L554.34 583.3 L556.28 579.82 L558.24 576.3 L560.24 572.72 L562.26 569.1 L564.32 565.42 L566.4 561.69 L568.53 557.91 L570.68 554.07 L572.87 550.17 L575.1 546.21 L577.37 542.18 L579.68 538.1 L582.02 533.95 L584.41 529.73 L586.85 525.44 L589.32 521.08 L591.85 516.64 L594.42 512.13 L597.04 507.53 L599.72 502.85 L602.44 498.09 L605.23 493.23 L608.07 488.28 L610.97 483.24 L613.94 478.09 L616.97 472.84 L620.07 467.48 L623.24 462 L626.49 456.41 L629.81 450.69"/>
<path d="M546.37 641.78 L547.84 639.01 L549.33 636.21 L550.84 633.38 L552.37 630.52 L553.91 627.63 L555.48 624.7 L557.07 621.74 L558.67 618.75 L560.3 615.72 L561.95 612.66 L563.62 609.56 L565.31 606.42 L567.03 603.24 L568.77 600.02 L570.53 596.76 L572.32 593.46 L574.14 590.12 L575.98 586.73 L577.85 583.3 L579.74 579.82 L581.67 576.3 L583.62 572.72 L585.61 569.1 L587.62 565.42 L589.67 561.69 L591.75 557.91 L593.87 554.07 L596.02 550.17 L598.2 546.21 L600.43 542.18 L602.69 538.1 L604.99 533.95 L607.34 529.73 L609.72 525.44 L612.15 521.08 L614.63 516.64 L617.16 512.13 L619.73 507.53 L622.36 502.85 L625.03 498.09 L627.77 493.23 L630.56 488.28 L633.41 483.24 L636.32 478.09 L639.3 472.84 L642.35 467.48 L645.46 462 L648.65 456.41 L651.92 450.69"/>
<path d="M572.87 641.78 L574.31 639.01 L575.76 636.21 L577.24 633.38 L578.73 630.52 L580.24 627.63 L581.77 624.7 L583.31 621.74 L584.88 618.75 L586.47 615.72 L588.08 612.66 L589.71 609.56 L591.37 606.42 L593.05 603.24 L594.75 600.02 L596.47 596.76 L598.22 593.46 L599.99 590.12 L601.79 586.73 L603.62 583.3 L605.47 579.82 L607.35 576.3 L609.26 572.72 L611.2 569.1 L613.17 565.42 L615.18 561.69 L617.21 557.91 L619.28 554.07 L621.38 550.17 L623.52 546.21 L625.7 542.18 L627.91 538.1 L630.17 533.95 L632.46 529.73 L634.8 525.44 L637.18 521.08 L639.6 516.64 L642.08 512.13 L644.6 507.53 L647.17 502.85 L649.79 498.09 L652.47 493.23 L655.2 488.28 L658 483.24 L660.85 478.09 L663.77 472.84 L666.75 467.48 L669.81 462 L672.93 456.41 L676.14 450.69"/>
<path d="M599.91 641.78 L601.31 639.01 L602.73 636.21 L604.16 633.38 L605.62 630.52 L607.09 627.63 L608.58 624.7 L610.09 621.74 L611.62 618.75 L613.17 615.72 L614.74 612.66 L616.33 609.56 L617.95 606.42 L619.58 603.24 L621.24 600.02 L622.92 596.76 L624.63 593.46 L626.36 590.12 L628.12 586.73 L629.9 583.3 L631.71 579.82 L633.55 576.3 L635.41 572.72 L637.31 569.1 L639.23 565.42 L641.19 561.69 L643.18 557.91 L645.2 554.07 L647.25 550.17 L649.34 546.21 L651.47 542.18 L653.63 538.1 L655.84 533.95 L658.08 529.73 L660.36 525.44 L662.69 521.08 L665.06 516.64 L667.48 512.13 L669.94 507.53 L672.46 502.85 L675.03 498.09 L677.65 493.23 L680.32 488.28 L683.05 483.24 L685.85 478.09 L688.71 472.84 L691.63 467.48 L694.62 462 L697.68 456.41 L700.82 450.69"/>
<path d="M622.38 641.78 L623.75 639.01 L625.14 636.21 L626.54 633.38 L627.96 630.52 L629.4 627.63 L630.86 624.7 L632.34 621.74 L633.84 618.75 L635.35 615.72 L636.89 612.66 L638.45 609.56 L640.03 606.42 L641.63 603.24 L643.25 600.02 L644.9 596.76 L646.57 593.46 L648.27 590.12 L649.99 586.73 L651.73 583.3 L653.51 579.82 L655.31 576.3 L657.13 572.72 L658.99 569.1 L660.88 565.42 L662.79 561.69 L664.74 557.91 L666.72 554.07 L668.74 550.17 L670.79 546.21 L672.87 542.18 L674.99 538.1 L677.15 533.95 L679.35 529.73 L681.59 525.44 L683.87 521.08 L686.2 516.64 L688.57 512.13 L690.99 507.53 L693.46 502.85 L695.98 498.09 L698.55 493.23 L701.18 488.28 L703.86 483.24 L706.6 478.09 L709.41 472.84 L712.28 467.48 L715.21 462 L718.22 456.41 L721.3 450.69"/>
<path d="M645.16 641.78 L646.5 639.01 L647.86 636.21 L649.23 633.38 L650.62 630.52 L652.03 627.63 L653.45 624.7 L654.9 621.74 L656.36 618.75 L657.84 615.72 L659.35 612.66 L660.87 609.56 L662.41 606.42 L663.98 603.24 L665.57 600.02 L667.18 596.76 L668.81 593.46 L670.47 590.12 L672.16 586.73 L673.86 583.3 L675.6 579.82 L677.36 576.3 L679.15 572.72 L680.97 569.1 L682.81 565.42 L684.69 561.69 L686.6 557.91 L688.54 554.07 L690.51 550.17 L692.52 546.21 L694.56 542.18 L696.64 538.1 L698.75 533.95 L700.91 529.73 L703.11 525.44 L705.34 521.08 L707.62 516.64 L709.95 512.13 L712.32 507.53 L714.74 502.85 L717.21 498.09 L719.73 493.23 L722.31 488.28 L724.94 483.24 L727.63 478.09 L730.38 472.84 L733.2 467.48 L736.08 462 L739.03 456.41 L742.06 450.69"/>
<path d="M664.65 641.78 L665.96 639.01 L667.29 636.21 L668.63 633.38 L669.99 630.52 L671.37 627.63 L672.77 624.7 L674.19 621.74 L675.62 618.75 L677.07 615.72 L678.55 612.66 L680.04 609.56 L681.56 606.42 L683.09 603.24 L684.65 600.02 L686.23 596.76 L687.83 593.46 L689.46 590.12 L691.11 586.73 L692.79 583.3 L694.49 579.82 L696.22 576.3 L697.97 572.72 L699.76 569.1 L701.57 565.42 L703.41 561.69 L705.28 557.91 L707.19 554.07 L709.12 550.17 L711.09 546.21 L713.1 542.18 L715.14 538.1 L717.22 533.95 L719.34 529.73 L721.49 525.44 L723.69 521.08 L725.93 516.64 L728.22 512.13 L730.55 507.53 L732.92 502.85 L735.35 498.09 L737.83 493.23 L740.36 488.28 L742.95 483.24 L745.6 478.09 L748.3 472.84 L751.07 467.48 L753.91 462 L756.81 456.41 L759.79 450.69"/>
</g>
<g fill="none" stroke="#b0b0b0" stroke-width="1.33" stroke-linecap="square">
<path d="M90.5 36.5 H753.5"/>
<path d="M90.5 215.5 H753.5"/>
<path d="M90.5 319.5 H753.5"/>
<path d="M90.5 393.5 H753.5"/>
<path d="M90.5 451.5 H753.5"/>
<path d="M90.5 498.5 H753.5"/>
<path d="M90.5 537.5 H753.5"/>
<path d="M90.5 572.5 H753.5"/>
<path d="M90.5 602.5 H753.5"/>
<path d="M90.5 629.5 H753.5"/>
<path d="M-572.2 641.78 L33.38 36.19"/>
<path d="M-498.58 641.78 L107 36.19"/>
<path d="M-424.96 641.78 L180.62 36.19"/>
<path d="M-351.35 641.78 L254.24 36.19"/>
<path d="M-277.73 641.78 L327.86 36.19"/>
<path d="M-204.11 641.78 L401.48 36.19"/>
<path d="M-130.49 641.78 L475.09 36.19"/>
<path d="M-56.87 641.78 L548.71 36.19"/>
<path d="M16.75 641.78 L622.33 36.19"/>
<path d="M90.36 641.78 L695.95 36.19"/>
<path d="M163.98 641.78 L769.57 36.19"/>
<path d="M237.6 641.78 L843.19 36.19"/>
<path d="M311.22 641.78 L916.8 36.19"/>
<path d="M384.84 641.78 L990.42 36.19"/>
<path d="M458.46 641.78 L1064.04 36.19"/>
<path d="M532.07 641.78 L1137.66 36.19"/>
<path d="M605.69 641.78 L1211.28 36.19"/>
<path d="M679.31 641.78 L1284.9 36.19"/>
<path d="M752.93 641.78 L1358.51 36.19"/>
</g>
<path d="M394 35 C393.55 35.77 392.17 38.17 391.3 39.6 C390.43 41.03 389.68 42.18 388.8 43.6 C387.92 45.02 386.93 46.6 386 48.1 C385.07 49.6 383.95 51.18 383.2 52.6 C382.45 54.02 381.88 55.27 381.5 56.6 C381.12 57.93 381.08 59.28 380.9 60.6 C380.72 61.92 380.4 63.35 380.4 64.5 C380.4 65.65 380.7 66.33 380.9 67.5 C381.1 68.67 381.18 70.17 381.6 71.5 C382.02 72.83 382.67 74.08 383.4 75.5 C384.13 76.92 385 78.35 386 80 C387 81.65 388.23 83.57 389.4 85.4 C390.57 87.23 391.8 89.07 393 91 C394.2 92.93 395.47 94.92 396.6 97 C397.73 99.08 398.97 101.63 399.8 103.5 C400.63 105.37 400.5 105.4 401.6 108.2 C402.7 111 404.67 116.2 406.4 120.3 C408.13 124.4 410.22 128.65 412 132.8 C413.78 136.95 415.58 141.07 417.1 145.2 C418.62 149.33 419.75 153.63 421.1 157.6 C422.45 161.57 424.08 165.97 425.2 169 C426.32 172.03 427.02 173.63 427.8 175.8 C428.58 177.97 429.25 179.68 429.9 182 C430.55 184.32 431.25 187.1 431.7 189.7 C432.15 192.3 432.35 194.78 432.6 197.6 C432.85 200.42 432.92 203.58 433.2 206.6 C433.48 209.62 433.73 212.87 434.3 215.7 C434.87 218.53 435.57 220.97 436.6 223.6 C437.63 226.23 438.9 228.68 440.5 231.5 C442.1 234.32 444.5 237.87 446.2 240.5 C447.9 243.13 449.23 245.03 450.7 247.3 C452.17 249.57 453.6 252 455 254.1 C456.4 256.2 457.23 257.28 459.1 259.9 C460.97 262.52 463.85 266.62 466.2 269.8 C468.55 272.98 470.62 275.72 473.2 279 C475.78 282.28 478.87 286.1 481.7 289.5 C484.53 292.9 487.6 296.45 490.2 299.4 C492.8 302.35 494.95 304.72 497.3 307.2 C499.65 309.68 501.95 311.95 504.3 314.3 C506.65 316.65 509.28 319.18 511.4 321.3 C513.52 323.42 515.23 324.77 517 327 C518.77 329.23 520.67 332.37 522 334.7 C523.33 337.03 523.97 338.93 525 341 C526.03 343.07 527.07 344.2 528.2 347.1 C529.33 350 530.27 354.63 531.8 358.4 C533.33 362.17 535.87 365.93 537.4 369.7 C538.93 373.47 539.47 377.35 541 381 C542.53 384.65 544.97 388.32 546.6 391.6 C548.23 394.88 549.38 397.3 550.8 400.7 C552.22 404.1 553.22 408.23 555.1 412 C556.98 415.77 560.02 420.3 562.1 423.3 C564.18 426.3 566.2 428.13 567.6 430 C569 431.87 569.93 432.8 570.5 434.5 C571.07 436.2 571.67 438.6 571 440.2 C570.33 441.8 568.57 442.78 566.5 444.1 C564.43 445.42 561.05 446.68 558.6 448.1 C556.15 449.52 553.58 451.1 551.8 452.6 C550.02 454.1 548.75 455.22 547.9 457.1 C547.05 458.98 546.05 461.63 546.7 463.9 C547.35 466.17 550.2 468.25 551.8 470.7 C553.4 473.15 554.98 475.97 556.3 478.6 C557.62 481.23 558.57 483.48 559.7 486.5 C560.83 489.52 562.27 492.95 563.1 496.7 C563.93 500.45 564.25 505.43 564.7 509 C565.15 512.57 565.7 515.08 565.8 518.1 C565.9 521.12 565.2 524.28 565.3 527.1 C565.4 529.92 565.75 532.55 566.4 535 C567.05 537.45 568.25 539.53 569.2 541.8 C570.15 544.07 571.43 546.15 572.1 548.6 C572.77 551.05 573.12 553.87 573.2 556.5 C573.28 559.13 572.78 561.95 572.6 564.4 C572.42 566.85 572.12 568.95 572.1 571.2 C572.08 573.45 572.15 575.28 572.5 577.9 C572.85 580.52 573.37 583.88 574.2 586.9 C575.03 589.92 576.85 593.17 577.5 596 C578.15 598.83 577.9 601.08 578.1 603.9 C578.3 606.72 577.95 610.27 578.7 612.9 C579.45 615.53 581 617.82 582.6 619.7 C584.2 621.58 586.6 622.92 588.3 624.2 C590 625.48 592.05 626.87 592.8 627.4" fill="none" stroke="#ff0000" stroke-width="2.5" stroke-linejoin="round" stroke-linecap="butt"/>
<path d="M391.8 35 C391.65 35.77 391.43 38.17 390.9 39.6 C390.37 41.03 389.45 42.18 388.6 43.6 C387.75 45.02 386.73 46.6 385.8 48.1 C384.87 49.6 383.75 51.18 383 52.6 C382.25 54.02 381.68 55.27 381.3 56.6 C380.92 57.93 380.88 59.28 380.7 60.6 C380.52 61.92 381.05 63.18 380.2 64.5 C379.35 65.82 377.12 67.18 375.6 68.5 C374.08 69.82 372.37 71.07 371.1 72.4 C369.83 73.73 368.85 75.07 368 76.5 C367.15 77.93 366.77 78.95 366 81 C365.23 83.05 364.35 86.47 363.4 88.8 C362.45 91.13 361.42 93.27 360.3 95 C359.18 96.73 358.35 97.32 356.7 99.2 C355.05 101.08 352.63 103.7 350.4 106.3 C348.17 108.9 345.67 111.73 343.3 114.8 C340.93 117.87 337.97 121.88 336.2 124.7 C334.43 127.52 333.63 129.12 332.7 131.7 C331.77 134.28 330.83 137.85 330.6 140.2 C330.37 142.55 330.23 143.8 331.3 145.8 C332.37 147.8 334.18 150.18 337 152.2 C339.82 154.22 343.97 155.9 348.2 157.9 C352.43 159.9 357.22 162.2 362.4 164.2 C367.58 166.2 375.07 168.25 379.3 169.9 C383.53 171.55 385.45 172.47 387.8 174.1 C390.15 175.73 391.52 177.58 393.4 179.7 C395.28 181.82 397.25 184.92 399.1 186.8 C400.95 188.68 402.68 189.87 404.5 191 C406.32 192.13 408.33 192.6 410 193.6 C411.67 194.6 413.33 195.58 414.5 197 C415.67 198.42 416.53 200.12 417 202.1 C417.47 204.08 417.43 206.45 417.3 208.9 C417.17 211.35 416.48 214.35 416.2 216.8 C415.92 219.25 415.42 221.15 415.6 223.6 C415.78 226.05 416.73 229.05 417.3 231.5 C417.87 233.95 417.95 236.23 419 238.3 C420.05 240.37 422.27 242.22 423.6 243.9 C424.93 245.58 425.85 246.45 427 248.4 C428.15 250.35 429.17 253.27 430.5 255.6 C431.83 257.93 433.97 260.13 435 262.4 C436.03 264.67 436.5 266.93 436.7 269.2 C436.9 271.47 436.57 273.55 436.2 276 C435.83 278.45 434.42 281.27 434.5 283.9 C434.58 286.53 436.33 289.17 436.7 291.8 C437.07 294.43 436.6 297.25 436.7 299.7 C436.8 302.15 436.73 304.23 437.3 306.5 C437.87 308.77 439.53 311.03 440.1 313.3 C440.67 315.57 440.7 317.85 440.7 320.1 C440.7 322.35 440.3 324.93 440.1 326.8 C439.9 328.67 439.22 329.42 439.5 331.3 C439.78 333.18 441.03 335.83 441.8 338.1 C442.57 340.37 443.35 342.83 444.1 344.9 C444.85 346.97 445.73 348.43 446.3 350.5 C446.87 352.57 446.75 355.03 447.5 357.3 C448.25 359.57 450.15 362.4 450.8 364.1 C451.45 365.8 451.77 366.47 451.4 367.5 C451.03 368.53 450.58 369.27 448.6 370.3 C446.62 371.33 442.9 372.67 439.5 373.7 C436.1 374.73 432.52 375.47 428.2 376.5 C423.88 377.53 417.52 378.88 413.6 379.9 C409.68 380.92 409.7 381.65 404.7 382.6 C399.7 383.55 390.65 384.62 383.6 385.6 C376.55 386.58 368.77 387.55 362.4 388.5 C356.03 389.45 349.4 390.42 345.4 391.3 C341.4 392.18 339.68 393.1 338.4 393.8 C337.12 394.5 337 394.73 337.7 395.5 C338.4 396.27 341.32 397.22 342.6 398.4 C343.88 399.58 345.05 401.2 345.4 402.6 C345.75 404 344.23 405.38 344.7 406.8 C345.17 408.22 347.25 409.8 348.2 411.1 C349.15 412.4 350.63 413.43 350.4 414.6 C350.17 415.77 347.87 416.92 346.8 418.1 C345.73 419.28 344 420.52 344 421.7 C344 422.88 345.15 424.03 346.8 425.2 C348.45 426.37 352.95 427.77 353.9 428.7 C354.85 429.63 354.38 430.08 352.5 430.8 C350.62 431.52 344.95 432.28 342.6 433 C340.25 433.72 338.17 434.52 338.4 435.1 C338.63 435.68 340 435.98 344 436.5 C348 437.02 355.8 437.62 362.4 438.2 C369 438.78 376.55 439.35 383.6 440 C390.65 440.65 396.75 441.4 404.7 442.1 C412.65 442.8 423.32 443.5 431.3 444.2 C439.28 444.9 445.5 445.6 452.6 446.3 C459.7 447 466.8 447.7 473.9 448.4 C481 449.1 489.28 449.83 495.2 450.5 C501.12 451.17 505.05 451.77 509.4 452.4 C513.75 453.03 517.43 453.6 521.3 454.3 C525.17 455 529.4 455.75 532.6 456.6 C535.8 457.45 538.62 458.37 540.5 459.4 C542.38 460.43 543.8 461.12 543.9 462.8 C544 464.48 542.23 466.87 541.1 469.5 C539.97 472.13 538.52 475.38 537.1 478.6 C535.68 481.82 533.63 486.35 532.6 488.8 C531.57 491.25 531 491.42 530.9 493.3 C530.8 495.18 531.43 498.22 532 500.1 C532.57 501.98 533.27 503.1 534.3 504.6 C535.33 506.1 537.65 507.6 538.2 509.1 C538.75 510.6 537.88 511.92 537.6 513.6 C537.32 515.28 536.32 517.32 536.5 519.2 C536.68 521.08 537.58 523.2 538.7 524.9 C539.82 526.6 542.17 527.9 543.2 529.4 C544.23 530.9 544.8 532.22 544.9 533.9 C545 535.58 544.27 537.62 543.8 539.5 C543.33 541.38 542.38 543.12 542.1 545.2 C541.82 547.28 541.72 549.55 542.1 552 C542.48 554.45 543.27 557.65 544.4 559.9 C545.53 562.15 547.48 563.62 548.9 565.5 C550.32 567.38 552.08 569.7 552.9 571.2 C553.72 572.7 553.93 572.63 553.8 574.5 C553.67 576.37 552.57 579.77 552.1 582.4 C551.63 585.03 551.47 588.03 551 590.3 C550.53 592.57 549.12 594.3 549.3 596 C549.48 597.7 550.68 599 552.1 600.5 C553.52 602 555.92 603.4 557.8 605 C559.68 606.6 561.9 608.22 563.4 610.1 C564.9 611.98 566.7 614.32 566.8 616.3 C566.9 618.28 565.32 620.2 564 622 C562.68 623.8 559.75 626.25 558.9 627.1" fill="none" stroke="#008000" stroke-width="2.5" stroke-linejoin="round" stroke-linecap="butt"/>
<text transform="translate(217.51 0.7) rotate(-45)" x="0" y="3.25" text-anchor="middle" font-size="12.5" font-weight="bold" fill="#1f77b4">-110</text>
<text transform="translate(237.5 54.33) rotate(-45)" x="0" y="3.25" text-anchor="middle" font-size="12.5" font-weight="bold" fill="#1f77b4">-100</text>
<text transform="translate(260.51 104.94) rotate(-45)" x="0" y="3.25" text-anchor="middle" font-size="12.5" font-weight="bold" fill="#1f77b4">-90</text>
<text transform="translate(286.21 152.86) rotate(-45)" x="0" y="3.25" text-anchor="middle" font-size="12.5" font-weight="bold" fill="#1f77b4">-80</text>
<text transform="translate(314.32 198.36) rotate(-45)" x="0" y="3.25" text-anchor="middle" font-size="12.5" font-weight="bold" fill="#1f77b4">-70</text>
<text transform="translate(344.63 241.68) rotate(-45)" x="0" y="3.25" text-anchor="middle" font-size="12.5" font-weight="bold" fill="#1f77b4">-60</text>
<text transform="translate(376.92 283) rotate(-45)" x="0" y="3.25" text-anchor="middle" font-size="12.5" font-weight="bold" fill="#1f77b4">-50</text>
<text transform="translate(411.02 322.52) rotate(-45)" x="0" y="3.25" text-anchor="middle" font-size="12.5" font-weight="bold" fill="#1f77b4">-40</text>
<text transform="translate(446.78 360.37) rotate(-45)" x="0" y="3.25" text-anchor="middle" font-size="12.5" font-weight="bold" fill="#1f77b4">-30</text>
<text transform="translate(484.07 396.7) rotate(-45)" x="0" y="3.25" text-anchor="middle" font-size="12.5" font-weight="bold" fill="#1f77b4">-20</text>
<text transform="translate(522.77 431.63) rotate(-45)" x="0" y="3.25" text-anchor="middle" font-size="12.5" font-weight="bold" fill="#1f77b4">-10</text>
<text transform="translate(562.77 465.25) rotate(-45)" x="0" y="3.25" text-anchor="middle" font-size="12.5" font-weight="bold" fill="#808080">0</text>
<text transform="translate(603.97 497.66) rotate(-45)" x="0" y="3.25" text-anchor="middle" font-size="12.5" font-weight="bold" fill="#d62728">10</text>
<text transform="translate(646.31 528.94) rotate(-45)" x="0" y="3.25" text-anchor="middle" font-size="12.5" font-weight="bold" fill="#d62728">20</text>
<text transform="translate(689.69 559.18) rotate(-45)" x="0" y="3.25" text-anchor="middle" font-size="12.5" font-weight="bold" fill="#d62728">30</text>
<text transform="translate(734.05 588.43) rotate(-45)" x="0" y="3.25" text-anchor="middle" font-size="12.5" font-weight="bold" fill="#d62728">40</text>
<text transform="translate(779.33 616.77) rotate(-45)" x="0" y="3.25" text-anchor="middle" font-size="12.5" font-weight="bold" fill="#d62728">50</text>
<text transform="translate(222.82 440.74) rotate(-30)" x="0" y="3.25" text-anchor="middle" font-size="12.5" font-weight="bold" fill="#1e90ff">0.1</text>
<text transform="translate(269.64 440.74) rotate(-30)" x="0" y="3.25" text-anchor="middle" font-size="12.5" font-weight="bold" fill="#1e90ff">0.2</text>
<text transform="translate(319.6 440.74) rotate(-30)" x="0" y="3.25" text-anchor="middle" font-size="12.5" font-weight="bold" fill="#1e90ff">0.4</text>
<text transform="translate(350.4 440.74) rotate(-30)" x="0" y="3.25" text-anchor="middle" font-size="12.5" font-weight="bold" fill="#1e90ff">0.6</text>
<text transform="translate(390.99 444.11) rotate(-30)" x="0" y="3.25" text-anchor="middle" font-size="12.5" font-weight="bold" fill="#1e90ff">1</text>
<text transform="translate(424.71 440.74) rotate(-30)" x="0" y="3.25" text-anchor="middle" font-size="12.5" font-weight="bold" fill="#1e90ff">1.5</text>
<text transform="translate(449.48 444.11) rotate(-30)" x="0" y="3.25" text-anchor="middle" font-size="12.5" font-weight="bold" fill="#1e90ff">2</text>
<text transform="translate(485.66 444.11) rotate(-30)" x="0" y="3.25" text-anchor="middle" font-size="12.5" font-weight="bold" fill="#1e90ff">3</text>
<text transform="translate(512.25 444.11) rotate(-30)" x="0" y="3.25" text-anchor="middle" font-size="12.5" font-weight="bold" fill="#1e90ff">4</text>
<text transform="translate(551.07 444.11) rotate(-30)" x="0" y="3.25" text-anchor="middle" font-size="12.5" font-weight="bold" fill="#1e90ff">6</text>
<text transform="translate(579.6 444.11) rotate(-30)" x="0" y="3.25" text-anchor="middle" font-size="12.5" font-weight="bold" fill="#1e90ff">8</text>
<text transform="translate(602.29 441.93) rotate(-30)" x="0" y="3.25" text-anchor="middle" font-size="12.5" font-weight="bold" fill="#1e90ff">10</text>
<text transform="translate(629.61 441.93) rotate(-30)" x="0" y="3.25" text-anchor="middle" font-size="12.5" font-weight="bold" fill="#1e90ff">13</text>
<text transform="translate(651.72 441.93) rotate(-30)" x="0" y="3.25" text-anchor="middle" font-size="12.5" font-weight="bold" fill="#1e90ff">16</text>
<text transform="translate(675.94 441.93) rotate(-30)" x="0" y="3.25" text-anchor="middle" font-size="12.5" font-weight="bold" fill="#1e90ff">20</text>
<text transform="translate(700.62 441.93) rotate(-30)" x="0" y="3.25" text-anchor="middle" font-size="12.5" font-weight="bold" fill="#1e90ff">25</text>
<text transform="translate(721.1 441.93) rotate(-30)" x="0" y="3.25" text-anchor="middle" font-size="12.5" font-weight="bold" fill="#1e90ff">30</text>
<text transform="translate(741.86 441.93) rotate(-30)" x="0" y="3.25" text-anchor="middle" font-size="12.5" font-weight="bold" fill="#1e90ff">36</text>
<text transform="translate(759.59 441.93) rotate(-30)" x="0" y="3.25" text-anchor="middle" font-size="12.5" font-weight="bold" fill="#1e90ff">42</text>
</g>
<rect x="90.5" y="36.5" width="663" height="606" fill="none" stroke="#000" stroke-width="1.33" stroke-linecap="square"/>
<g stroke="#000" stroke-width="1.33">
<path d="M84.67 36.5 H90.5"/>
<path d="M84.67 215.5 H90.5"/>
<path d="M84.67 319.5 H90.5"/>
<path d="M84.67 393.5 H90.5"/>
<path d="M84.67 451.5 H90.5"/>
<path d="M84.67 498.5 H90.5"/>
<path d="M84.67 537.5 H90.5"/>
<path d="M84.67 572.5 H90.5"/>
<path d="M84.67 602.5 H90.5"/>
<path d="M84.67 629.5 H90.5"/>
<path d="M90.5 642.5 V648.33"/>
<path d="M164.5 642.5 V648.33"/>
<path d="M238.5 642.5 V648.33"/>
<path d="M311.5 642.5 V648.33"/>
<path d="M385.5 642.5 V648.33"/>
<path d="M458.5 642.5 V648.33"/>
<path d="M532.5 642.5 V648.33"/>
<path d="M606.5 642.5 V648.33"/>
<path d="M679.5 642.5 V648.33"/>
<path d="M753.5 642.5 V648.33"/>
</g>
<g font-size="16.67" fill="#000">
<text x="78.8" y="43.09" text-anchor="end">100</text>
<text x="78.8" y="221.61" text-anchor="end">200</text>
<text x="78.8" y="326.03" text-anchor="end">300</text>
<text x="78.8" y="400.12" text-anchor="end">400</text>
<text x="78.8" y="457.59" text-anchor="end">500</text>
<text x="78.8" y="504.55" text-anchor="end">600</text>
<text x="78.8" y="544.25" text-anchor="end">700</text>
<text x="78.8" y="578.64" text-anchor="end">800</text>
<text x="78.8" y="608.97" text-anchor="end">900</text>
<text x="78.8" y="636.11" text-anchor="end">1000</text>
<text x="90.36" y="667.5" text-anchor="middle">−40</text>
<text x="163.98" y="667.5" text-anchor="middle">−30</text>
<text x="237.6" y="667.5" text-anchor="middle">−20</text>
<text x="311.22" y="667.5" text-anchor="middle">−10</text>
<text x="384.84" y="667.5" text-anchor="middle">0</text>
<text x="458.46" y="667.5" text-anchor="middle">10</text>
<text x="532.07" y="667.5" text-anchor="middle">20</text>
<text x="605.69" y="667.5" text-anchor="middle">30</text>
<text x="679.31" y="667.5" text-anchor="middle">40</text>
<text x="752.93" y="667.5" text-anchor="middle">50</text>
<text x="421.65" y="693" text-anchor="middle">Temperature (°C)</text>
<text transform="translate(24.8 340.08) rotate(-90)" text-anchor="middle">Pressure (hPa)</text>
</g>
<text x="421.65" y="27.1" text-anchor="middle" font-size="20" fill="#000">wetPf2_C2E2.2024.045.01.20.G29</text>
</svg></body></html>
